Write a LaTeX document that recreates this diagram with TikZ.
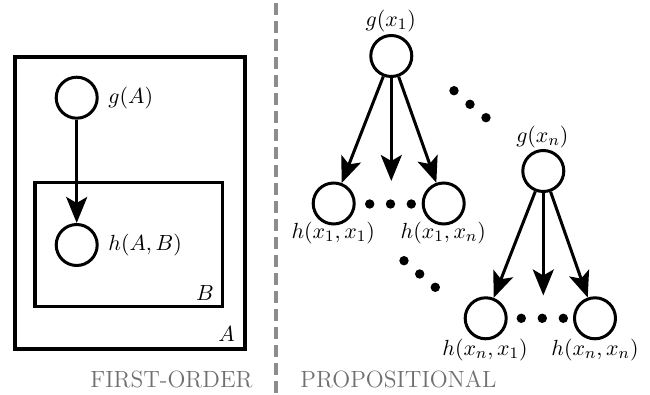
\documentclass[tikz,border=0pt]{standalone}
\usetikzlibrary{arrows.meta}
\definecolor{lblgray}{RGB}{112,112,112}
\definecolor{divgray}{RGB}{140,140,140}
\begin{document}
\begin{tikzpicture}[x=0.5pt,y=-0.5pt,
  font=\fontsize{10.8}{13}\selectfont,
  var/.style={circle,draw,line width=1.5pt,minimum size=20.5pt,inner sep=0pt},
  plate/.style={draw,line width=1.6pt},
  edge/.style={line width=1.5pt,-{Stealth[length=13pt,width=10.5pt,inset=3pt]}},
  dot/.style={circle,fill,inner sep=0pt,minimum size=4.7pt},
  side/.style={text=lblgray,inner sep=0pt,font=\fontsize{11.75}{13}\selectfont}]
\useasboundingbox (0,0) rectangle (650,395);
% left: plates
\draw[plate] (15,57) rectangle (245,349);
\draw[plate] (35,182.5) rectangle (222.5,306.5);
\node (gA) [var] at (76.7,97.7) {};
\node (hAB) [var] at (76.7,245) {};
\node (gAl) [anchor=west,inner sep=0pt] at (108,98.5) {$g(A)$};
\node (hABl) [anchor=west,inner sep=0pt] at (108,245) {$h(A,B)$};
\node (Bl) at (205,293) {$B$};
\node (Al) at (226.7,334) {$A$};
\draw[edge] (gA) -- (hAB);
% divider
\coordinate (dtop) at (276,3);
\coordinate (dbot) at (276,395);
\draw[divgray,line width=1.6pt,dash pattern=on 6pt off 3pt] (dtop) -- (dbot);
\node (fo) [side,anchor=east] at (253,379.5) {FIRST-ORDER};
\node (pr) [side,anchor=west] at (300,379.5) {PROPOSITIONAL};
% right: first group
\node (g1) [var] at (391.3,56) {};
\node (g1l) at (390.7,21) {$g(x_1)$};
\node (h11) [var] at (333.7,203.5) {};
\node (h1n) [var] at (443.7,203.5) {};
\coordinate (m1) at (391.3,181);
\node (h11l) at (333.3,233) {$h(x_1,x_1)$};
\node (h1nl) at (443.3,233) {$h(x_1,x_n)$};
\draw[edge] (g1) -- (h11);
\draw[edge] (g1.south) -- (m1);
\draw[edge] (g1) -- (h1n);
\node (d1) [dot] at (369.7,204) {};
\node (d2) [dot] at (390.5,204) {};
\node (d3) [dot] at (411.3,204) {};
% second group
\node (gn) [var] at (543.3,171) {};
\node (gnl) at (542.3,137) {$g(x_n)$};
\node (hn1) [var] at (485.7,318.3) {};
\node (hnn) [var] at (595,318.3) {};
\coordinate (mn) at (543.3,295.5);
\node (hn1l) at (485,350) {$h(x_n,x_1)$};
\node (hnnl) at (595,350) {$h(x_n,x_n)$};
\draw[edge] (gn) -- (hn1);
\draw[edge] (gn.south) -- (mn);
\draw[edge] (gn) -- (hnn);
\node (e1) [dot] at (521.3,318.3) {};
\node (e2) [dot] at (542.3,318.3) {};
\node (e3) [dot] at (563.3,318.3) {};
% diagonal dots
\node (u1) [dot] at (454,90.7) {};
\node (u2) [dot] at (470,104.3) {};
\node (u3) [dot] at (486,117.7) {};
\node (l1) [dot] at (404,260.7) {};
\node (l2) [dot] at (419.7,274) {};
\node (l3) [dot] at (435.3,287.3) {};
\end{tikzpicture}
\end{document}
